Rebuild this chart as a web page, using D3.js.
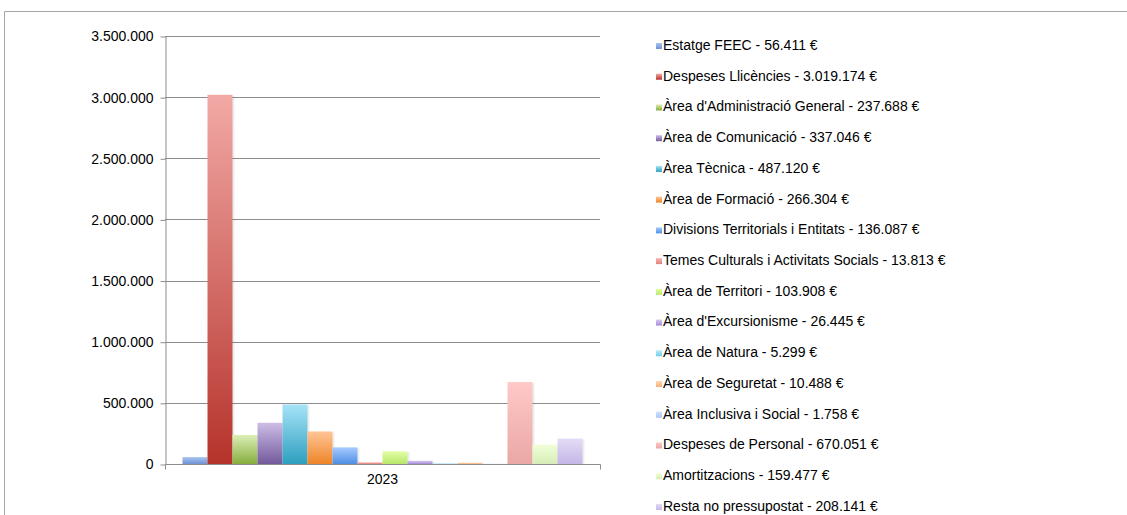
<!DOCTYPE html>
<html>
<head>
<meta charset="utf-8">
<script src="https://cdn.jsdelivr.net/npm/d3@7"></script>
<style>
  body { margin: 0; background: #fff; }
  svg { display: block; font-family: "Liberation Sans", Arial, sans-serif; }
</style>
</head>
<body>
<div id="chart"></div>
<script>
// data
var categories = ["2023"];
var seriesNames = [
  "Estatge FEEC",
  "Despeses Llicències",
  "Àrea d'Administració General",
  "Àrea de Comunicació",
  "Àrea Tècnica",
  "Àrea de Formació",
  "Divisions Territorials i Entitats",
  "Temes Culturals i Activitats Socials",
  "Àrea de Territori",
  "Àrea d'Excursionisme",
  "Àrea de Natura",
  "Àrea de Seguretat",
  "Àrea Inclusiva i Social",
  "Despeses de Personal",
  "Amortitzacions",
  "Resta no pressupostat"
];
var seriesValues = [56411, 3019174, 237688, 337046, 487120, 266304, 136087, 13813,
                    103908, 26445, 5299, 10488, 1758, 670051, 159477, 208141];
var yTicks = [0, 500000, 1000000, 1500000, 2000000, 2500000, 3000000, 3500000];

// gradient colours per series: [top, bottom]
var colors = [
  ["#a9c4ee", "#6f93d6"],
  ["#f2a9a6", "#b5332b"],
  ["#dcefb6", "#86ad3e"],
  ["#cdbde6", "#735a9c"],
  ["#a6e3f7", "#2e9fbf"],
  ["#ffc596", "#ee8428"],
  ["#a5cbff", "#4f8fe3"],
  ["#f8b8b6", "#e0807a"],
  ["#e2ffa6", "#b8e66a"],
  ["#d6caf2", "#a58ad6"],
  ["#b8ecfb", "#70cde8"],
  ["#ffd6b2", "#f5b07a"],
  ["#cfe1ff", "#a9c8f5"],
  ["#ffc9c7", "#e9a8a6"],
  ["#f1ffd9", "#d6edb6"],
  ["#e4dcf7", "#c5b6e6"]
];

var width = 1127, height = 515;
var margin = {top: 36, left: 165, bottom: 51, right: 527};
var w = width - margin.left - margin.right;
var h = height - margin.top - margin.bottom;
var fontSize = "14px";

var locale = d3.formatLocale({decimal: ",", thousands: ".", grouping: [3], currency: ["", "€"]});
var fmt = locale.format(",.0f");

var svg = d3.select("#chart").append("svg")
    .attr("width", width)
    .attr("height", height);

var defs = svg.append("defs");
colors.forEach(function (c, i) {
  var g = defs.append("linearGradient")
      .attr("id", "grad" + i)
      .attr("x1", 0).attr("y1", 0).attr("x2", 0).attr("y2", 1);
  g.append("stop").attr("offset", "0%").attr("stop-color", c[0]);
  g.append("stop").attr("offset", "100%").attr("stop-color", c[1]);
});

// outer frame
svg.append("path")
    .attr("d", "M4.5," + height + "V11.5H" + width)
    .attr("fill", "none")
    .attr("stroke", "#a6a6a6")
    .attr("stroke-width", 1);

var x0 = d3.scaleBand().domain(categories).range([margin.left, margin.left + w]);
var x1 = d3.scaleBand().domain(d3.range(seriesNames.length))
    .range([0, x0.bandwidth()])
    .paddingOuter(0.7).paddingInner(0);
var y = d3.scaleLinear().domain([0, 3500000]).range([margin.top + h, margin.top]);

// gridlines
svg.append("g").selectAll("line")
    .data(yTicks.slice(1))
  .enter().append("line")
    .attr("x1", margin.left)
    .attr("x2", margin.left + w)
    .attr("y1", function (d) { return Math.round(y(d)) + 0.5; })
    .attr("y2", function (d) { return Math.round(y(d)) + 0.5; })
    .attr("stroke", "#8c8c8c")
    .attr("stroke-width", 1);

// y axis
var yAxis = svg.append("g")
    .attr("transform", "translate(" + (margin.left + 0.5) + ",0.5)")
    .call(d3.axisLeft(y).tickValues(yTicks).tickFormat(fmt).tickSize(5).tickSizeOuter(0).tickPadding(7));
yAxis.select(".domain").attr("stroke", "#8c8c8c");
yAxis.selectAll(".tick line").attr("stroke", "#8c8c8c");
yAxis.selectAll("text").attr("font-size", fontSize).attr("fill", "#000")
    .attr("font-family", "Liberation Sans, Arial, sans-serif");

// bars
var bars = svg.append("g").selectAll("g")
    .data(categories)
  .enter().append("g")
    .attr("transform", function (d) { return "translate(" + x0(d) + ",0)"; });

var barData = function () {
  return seriesValues.map(function (v, i) { return {i: i, v: v}; });
};

// shadow
bars.selectAll(".shadow")
    .data(barData)
  .enter().append("rect")
    .attr("class", "shadow")
    .attr("x", function (d) { return x1(d.i) + 2; })
    .attr("y", function (d) { return y(d.v) + 1; })
    .attr("width", x1.bandwidth())
    .attr("height", function (d) { return y(0) - y(d.v); })
    .attr("fill", "#000")
    .attr("opacity", 0.07);

bars.selectAll(".bar")
    .data(barData)
  .enter().append("rect")
    .attr("class", "bar")
    .attr("x", function (d) { return x1(d.i); })
    .attr("y", function (d) { return y(d.v); })
    .attr("width", x1.bandwidth())
    .attr("height", function (d) { return Math.max(y(0) - y(d.v), 0.6); })
    .attr("fill", function (d) { return "url(#grad" + d.i + ")"; });

// x axis
var xAxis = svg.append("g")
    .attr("transform", "translate(0," + (Math.round(y(0)) + 0.5) + ")")
    .call(d3.axisBottom(x0).tickSize(0).tickPadding(10));
xAxis.select(".domain").attr("stroke", "#8c8c8c")
    .attr("d", "M" + (margin.left + 0.5) + ",0V0H" + (margin.left + w + 0.5) + "V5");
xAxis.selectAll("text").attr("font-size", fontSize).attr("fill", "#000")
    .attr("font-family", "Liberation Sans, Arial, sans-serif");
xAxis.append("line")
    .attr("x1", margin.left + 0.5).attr("x2", margin.left + 0.5)
    .attr("y1", 0).attr("y2", 5)
    .attr("stroke", "#8c8c8c");

// legend
var legend = svg.append("g").selectAll("g")
    .data(seriesNames)
  .enter().append("g")
    .attr("transform", function (d, i) { return "translate(656," + (45 + i * 30.73) + ")"; });

legend.append("rect")
    .attr("x", 0)
    .attr("y", -2)
    .attr("width", 6)
    .attr("height", 6)
    .attr("fill", function (d, i) { return "url(#grad" + i + ")"; });

legend.append("text")
    .attr("x", 7)
    .attr("y", 0)
    .attr("dy", "0.35em")
    .attr("font-size", fontSize)
    .attr("fill", "#000")
    .text(function (d, i) { return d + " - " + fmt(seriesValues[i]) + " €"; });
</script>
</body>
</html>
